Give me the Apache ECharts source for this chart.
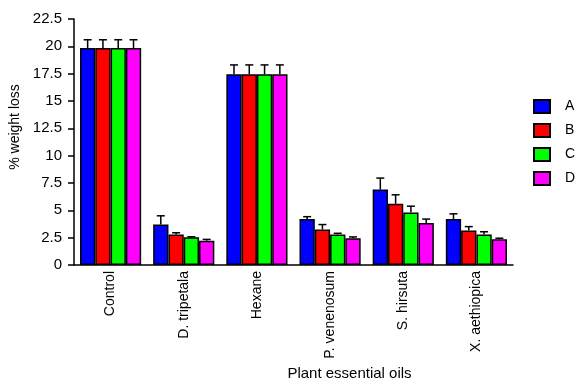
<!DOCTYPE html>
<html><head><meta charset="utf-8">
<script src="https://cdn.jsdelivr.net/npm/echarts@6/dist/echarts.min.js"></script>
<style>html,body{margin:0;padding:0;background:#fff}#c{width:580px;height:379px}</style>
</head><body><div id="c"></div>
<script>
const categories = ['Control','D. tripetala','Hexane','P. venenosum','S. hirsuta','X. aethiopica'];
const seriesNames = ['A','B','C','D'];
const colors = ['#0000ff','#ff0000','#00ff00','#ff00ff'];
const valuesA = [19.85, 3.7, 17.45, 4.2, 6.9, 4.2];
const valuesB = [19.85, 2.8, 17.45, 3.25, 5.6, 3.15];
const valuesC = [19.85, 2.53, 17.45, 2.8, 4.8, 2.8];
const valuesD = [19.85, 2.22, 17.45, 2.45, 3.85, 2.35];
const errA = [0.75, 0.8, 0.85, 0.22, 1.05, 0.48];
const errB = [0.75, 0.15, 0.85, 0.45, 0.82, 0.36];
const errC = [0.75, 0.05, 0.85, 0.1, 0.58, 0.24];
const errD = [0.75, 0.12, 0.85, 0.12, 0.35, 0.1];
const yTicks = {min: 0, max: 22.5, interval: 2.5};

const values = [valuesA, valuesB, valuesC, valuesD];
const errs = [errA, errB, errC, errD];
const catGap = 0.164;
const font = 'Liberation Sans';

const series = [];
values.forEach((v, k) => {
  series.push({
    name: seriesNames[k], type: 'bar', data: v,
    barGap: '0%', barCategoryGap: (catGap*100)+'%',
    itemStyle: {color: colors[k], borderColor: '#000', borderWidth: 1.5},
    z: 2
  });
});
values.forEach((v, k) => {
  series.push({
    name: seriesNames[k] + '_err', type: 'custom',
    data: v.map((val, i) => [i, val, errs[k][i]]),
    z: 3,
    renderItem: function (params, api) {
      const base = api.coord([api.value(0), api.value(1)]);
      const top = api.coord([api.value(0), api.value(1) + api.value(2)]);
      const band = api.size([1, 0])[0];
      const bw = band * (1 - catGap) / 4;
      const cx = base[0] + (k - 1.5) * bw;
      const st = {stroke: '#000', lineWidth: 1.5};
      return {type: 'group', children: [
        {type: 'line', shape: {x1: cx, y1: base[1], x2: cx, y2: top[1]}, style: st},
        {type: 'line', shape: {x1: cx - 4, y1: top[1], x2: cx + 4, y2: top[1]}, style: st}
      ]};
    }
  });
});

const chart = echarts.init(document.getElementById('c'));
chart.setOption({
  animation: false,
  textStyle: {fontFamily: font, color: '#000'},
  grid: {left: 74, right: 67, top: 19, bottom: 114, containLabel: false, outerBoundsMode: 'none'},
  legend: {
    data: seriesNames, orient: 'vertical', left: 528, top: 94,
    itemWidth: 16, itemHeight: 13, itemGap: 9,
    icon: 'rect',
    itemStyle: {borderColor: '#000', borderWidth: 2},
    textStyle: {fontSize: 14, fontFamily: font, color: '#000', padding: [0, 0, 0, 10]}
  },
  xAxis: {
    type: 'category', data: categories,
    name: 'Plant essential oils', nameLocation: 'middle', nameGap: 101,
    nameTextStyle: {fontSize: 15, fontFamily: font, color: '#000', padding: [0, 0, 0, 112]},
    axisLine: {lineStyle: {color: '#000', width: 1.5}},
    axisTick: {alignWithLabel: true, length: 5, lineStyle: {color: '#000', width: 1.5}},
    axisLabel: {rotate: 90, margin: 6, fontSize: 14, fontFamily: font, color: '#000'},
    splitLine: {show: false}
  },
  yAxis: {
    type: 'value', min: yTicks.min, max: yTicks.max, interval: yTicks.interval,
    name: '% weight loss', nameLocation: 'middle', nameGap: 49,
    nameTextStyle: {fontSize: 14, fontFamily: font, color: '#000', padding: [0, 0, 0, 30]},
    axisLine: {show: true, lineStyle: {color: '#000', width: 1.5}},
    axisTick: {show: true, length: 6, lineStyle: {color: '#000', width: 1.5}},
    axisLabel: {margin: 12, fontSize: 15, fontFamily: font, color: '#000'},
    splitLine: {show: false}
  },
  series: series
});
</script>
</body></html>
